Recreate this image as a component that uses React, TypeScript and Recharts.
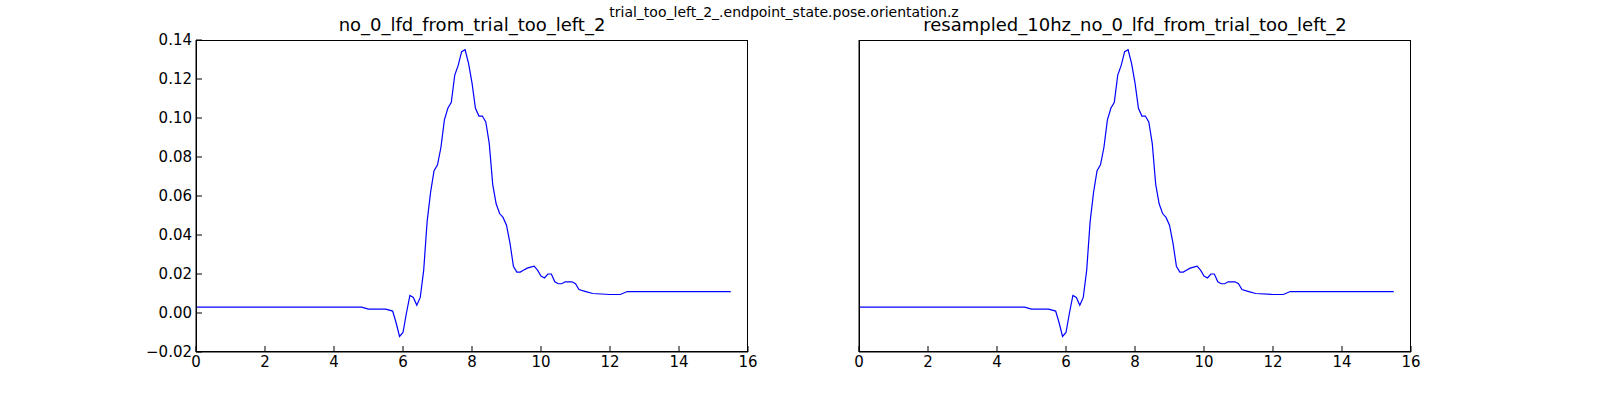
import React from "react";
import { LineChart, Line, XAxis, YAxis } from "recharts";

const times = [0, 1, 2, 3, 4, 4.8, 5.0, 5.5, 5.7, 5.8, 5.9, 6.0, 6.1, 6.2, 6.3, 6.4, 6.5, 6.6, 6.7, 6.8, 6.9, 7.0, 7.1, 7.2, 7.3, 7.4, 7.5, 7.6, 7.7, 7.8, 7.9, 8.0, 8.1, 8.2, 8.3, 8.4, 8.5, 8.6, 8.7, 8.8, 8.9, 9.0, 9.1, 9.2, 9.3, 9.4, 9.5, 9.6, 9.7, 9.8, 9.9, 10.0, 10.1, 10.2, 10.3, 10.4, 10.5, 10.6, 10.7, 10.8, 10.9, 11.0, 11.1, 11.3, 11.5, 12.0, 12.3, 12.5, 13, 13.5, 14, 15, 15.5];
const values = [0.003, 0.003, 0.003, 0.003, 0.003, 0.003, 0.002, 0.002, 0.001, -0.005, -0.012, -0.01, 0.0, 0.009, 0.008, 0.004, 0.008, 0.022, 0.047, 0.062, 0.073, 0.076, 0.085, 0.099, 0.105, 0.108, 0.122, 0.127, 0.134, 0.135, 0.128, 0.118, 0.105, 0.101, 0.101, 0.098, 0.087, 0.066, 0.056, 0.051, 0.049, 0.045, 0.036, 0.024, 0.021, 0.021, 0.022, 0.023, 0.0235, 0.024, 0.022, 0.019, 0.018, 0.02, 0.02, 0.016, 0.015, 0.015, 0.016, 0.016, 0.016, 0.015, 0.012, 0.011, 0.01, 0.0095, 0.0095, 0.011, 0.011, 0.011, 0.011, 0.011, 0.011];
const xTicks = [0, 2, 4, 6, 8, 10, 12, 14, 16];
const yTicks = [-0.02, 0, 0.02, 0.04, 0.06, 0.08, 0.1, 0.12, 0.14];

const data = times.map((t, i) => ({ t, v: values[i] }));
const font = "DejaVu Sans, sans-serif";
const tickStyle = { fill: "#000", fontSize: 15, fontFamily: font };
const fmtY = (v: number) => (v < 0 ? "\u2212" : "") + Math.abs(v).toFixed(2);

function Panel({ left, title, showY }: { left: number; title: string; showY: boolean }) {
  const yw = 60;
  return (
    <div style={{ position: "absolute", left: left - yw, top: 0 }}>
      <div style={{ position: "absolute", left: yw, width: 552, top: 14, textAlign: "center", fontFamily: font, fontSize: 18 }}>{title}</div>
      <LineChart width={yw + 552 + 20} height={400} data={data} margin={{ top: 40, right: 20, left: 0, bottom: 18 }}>
        <XAxis dataKey="t" type="number" domain={[0, 16]} ticks={xTicks} tick={tickStyle} stroke="#000" tickSize={-6} tickMargin={10} height={30} allowDataOverflow />
        <YAxis domain={[-0.02, 0.14]} ticks={yTicks} tick={showY ? tickStyle : false} tickFormatter={fmtY} stroke="#000" tickSize={-6} tickMargin={10} width={yw} allowDataOverflow />
        <Line dataKey="v" type="linear" stroke="#0000ff" strokeWidth={1.2} dot={false} isAnimationActive={false} />
      </LineChart>
      <div style={{ position: "absolute", left: yw, top: 40, width: 552, height: 312, border: "1px solid #000", boxSizing: "border-box", pointerEvents: "none" }} />
    </div>
  );
}

export default function App() {
  return (
    <div style={{ position: "fixed", left: 0, top: 0, width: 1600, height: 400, background: "#fff" }}>
      <div style={{ position: "absolute", left: 0, width: 1568, top: 4, textAlign: "center", fontFamily: font, fontSize: 14 }}>
        trial_too_left_2_.endpoint_state.pose.orientation.z
      </div>
      <Panel left={196} title="no_0_lfd_from_trial_too_left_2" showY />
      <Panel left={859} title="resampled_10hz_no_0_lfd_from_trial_too_left_2" showY={false} />
    </div>
  );
}
